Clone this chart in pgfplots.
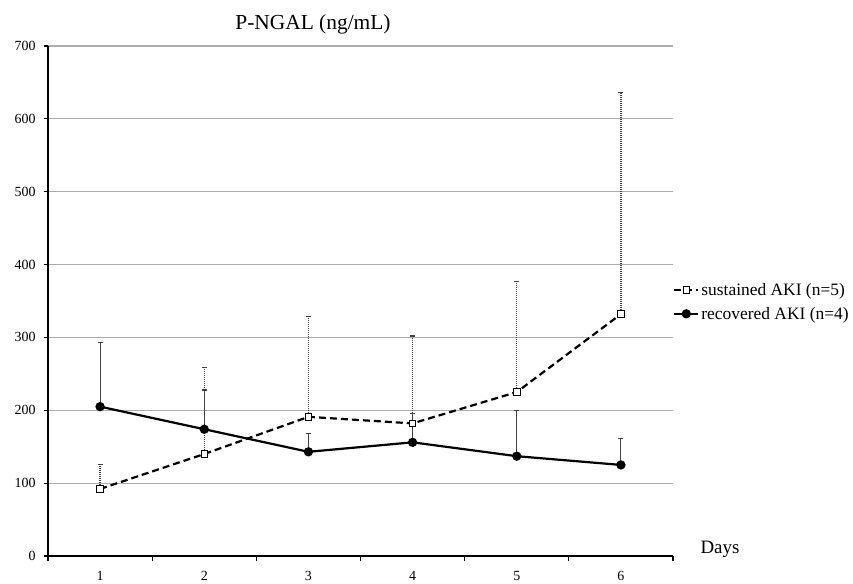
\documentclass[border=0pt]{standalone}
\usepackage{pgfplots}
\usepackage{pgfplotstable}
\pgfplotsset{compat=1.18}
\usepackage{fontspec}
\setmainfont{Liberation Serif}
\pgfplotstableread{
x y ey
1 92 34
2 140 119
3 191 138
4 182 120
5 225 152
6 332 304
}\sustained
\pgfplotstableread{
x y ey
1 205 88
2 174 54
3 143 25
4 156 40
5 137 63
6 125 36
}\recovered
\begin{document}
\begin{tikzpicture}
\path[use as bounding box] (-48bp,-28bp) rectangle (805bp,556bp);
\begin{axis}[
  at={(0,0)}, anchor=south west,
  scale only axis, width=625bp, height=510bp,
  clip=false,
  xmin=0.5, xmax=6.5, ymin=0, ymax=700,
  axis x line*=bottom, axis y line*=left,
  axis line style={line width=1.8bp, black},
  xtick={1,...,6}, minor xtick={0.5,1.5,...,6.5},
  ytick={0,100,...,700},
  ymajorgrids, major grid style={gray!65, line width=1.2bp},
  tick align=outside,
  major x tick style={draw=none},
  minor x tick style={black, line width=1.2bp},
  major y tick style={black, line width=1.2bp},
  major tick length=4bp, minor tick length=5bp,
  /pgf/number format/assume math mode=true,
  tick label style={font=\fontsize{14}{14}\selectfont},
  xticklabel style={anchor=base, yshift=-20bp},
  yticklabel style={xshift=-5bp},
  legend style={at={(1,0.498)}, anchor=west, draw=none, fill=none,
    font=\fontsize{17.5}{17.5}\selectfont, row sep=6bp, inner sep=0pt},
  legend cell align=left,
  legend image code/.code={\draw[mark repeat=2,mark phase=2,#1] plot coordinates {(0bp,0bp)(12bp,0bp)(24bp,0bp)};},
]
\addplot[black, line width=2.2bp, dash pattern=on 7bp off 4bp,
  mark=square*, mark size=3.3bp, mark options={solid, fill=white, line width=0.9bp},
  error bars/.cd, y dir=plus, y explicit, error mark=|,
  error bar style={line width=1.3bp, black!75, dash pattern=on 1bp off 1bp},
  error mark options={solid, line width=1.3bp, black!75, mark size=2.5bp}]
  table[x=x, y=y, y error=ey]{\sustained};
\addlegendentry{sustained AKI (n=5)}
\addplot[black, line width=2.2bp, solid,
  mark=*, mark size=3.5bp, mark options={solid},
  error bars/.cd, y dir=plus, y explicit, error mark=|,
  error bar style={line width=1.1bp, black!75, solid},
  error mark options={solid, line width=1.3bp, black!75, mark size=2.5bp}]
  table[x=x, y=y, y error=ey]{\recovered};
\addlegendentry{recovered AKI (n=4)}
\node[anchor=base, font=\fontsize{21.5}{21.5}\selectfont, yshift=17bp] at (rel axis cs:0.424,1) {P-NGAL (ng/mL)};
\node[anchor=base west, font=\fontsize{19}{19}\selectfont, xshift=24bp, yshift=3bp] at (rel axis cs:1,0) {Days};
\end{axis}
\end{tikzpicture}
\end{document}
